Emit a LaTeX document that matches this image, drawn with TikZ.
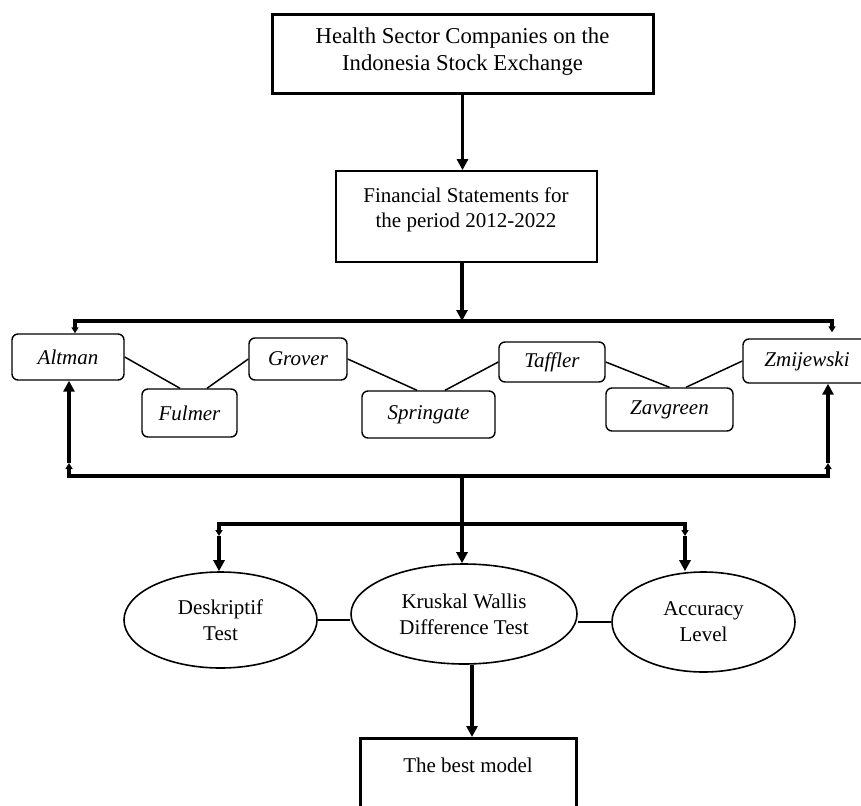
\documentclass[tikz,border=0pt]{standalone}
\usepackage{fontspec}
\setmainfont{Liberation Serif}
\usetikzlibrary{arrows.meta,shapes.geometric,calc}
\begin{document}
\begin{tikzpicture}[x=1pt,y=-1pt,
  big/.style={-{Triangle[width=11pt,length=11pt]}},
  small/.style={-{Triangle[width=7pt,length=6pt]}},
  heavy/.style={line width=3.5pt},
  plainbox/.style={draw, inner sep=0pt},
  model/.style={draw, rounded corners=6pt, line width=1.4pt, inner sep=0pt,
    font=\fontsize{21}{25}\selectfont\itshape},
  oval/.style={draw, ellipse, line width=1.6pt, inner sep=0pt, align=center,
    font=\fontsize{21}{26}\selectfont},
  thinlink/.style={line width=1.5pt},
  ovallink/.style={line width=2.5pt},
]
\useasboundingbox (0,0) rectangle (861,805);
\clip (0,0) rectangle (861,805);
\fill[white] (0,0) rectangle (861,805);

% top boxes
\node[plainbox, line width=3pt, minimum width=381pt, minimum height=79pt] (b1) at (462.5,54.5) {};
\node[font=\fontsize{22.7}{27}\selectfont, align=center] (t1) at (462.5,52) {Health Sector Companies on the\\Indonesia Stock Exchange};
\node[plainbox, line width=1.8pt, minimum width=261pt, minimum height=91pt] (b2) at (466.5,216.5) {};
\node[font=\fontsize{21}{25}\selectfont, align=center] (t2) at (466,210) {Financial Statements for\\the period 2012-2022};

\coordinate (tc) at (462,321);
\coordinate (tl) at (75,321);
\coordinate (tr) at (832,321);

\draw[heavy,big] (b1.south) -- (b1.south |- b2.north);
\draw[heavy,big] (tc |- b2.south) -- (tc);

% models
\node[model, minimum width=112pt, minimum height=46pt] (alt) at (68,357) {Altman};
\node[model, minimum width=95pt, minimum height=48pt] (ful) at (189.5,413) {Fulmer};
\node[model, minimum width=98pt, minimum height=42pt] (gro) at (298,359) {Grover};
\node[model, minimum width=133pt, minimum height=47pt] (spr) at (428.5,414.5) {Springate};
\node[model, minimum width=106pt, minimum height=40pt] (taf) at (552,362) {Taffler};
\node[model, minimum width=127pt, minimum height=43pt] (zav) at (669.5,409.5) {Zavgreen};
\node[model, minimum width=128pt, minimum height=44pt] (zmi) at (807,361) {Zmijewski};

\coordinate (tra) at ($(tr |- zmi.north)+(0,-6)$);
\draw[heavy,small] (tc) -- (tl) -- (tl |- alt.north);
\draw[heavy,small] (tc) -- (tr) -- (tra);

\draw[thinlink] (alt.east) -- ([xshift=-9.5pt]ful.north);
\draw[thinlink] ([xshift=17.5pt]ful.north) -- (gro.west);
\draw[thinlink] (gro.east) -- ([xshift=-11.5pt]spr.north);
\draw[thinlink] ([xshift=16.5pt]spr.north) -- (taf.west);
\draw[thinlink] (taf.east) -- (zav.north);
\draw[thinlink] ([xshift=16.5pt]zav.north) -- (zmi.west);

% bottom collector line
\coordinate (bl) at (69,476);
\coordinate (br) at (828,476);
\coordinate (bc) at (462,476);
\coordinate (lm) at (69,463);
\coordinate (rm) at (828,463);
\draw[line width=4.5pt, line cap=rect] (bl) -- (br);
\draw[heavy,small] (bl) -- (lm);
\draw[heavy,big] (lm) -- (lm |- alt.south);
\draw[heavy,small] (br) -- (rm);
\draw[heavy,big] (rm) -- (rm |- zmi.south);

% ellipses
\node[oval, minimum width=193pt, minimum height=96pt] (des) at (220.5,620) {Deskriptif\\Test};
\node[oval, minimum width=226pt, minimum height=100pt] (kru) at (464,614) {Kruskal Wallis\\Difference Test};
\node[oval, minimum width=183pt, minimum height=100pt] (acc) at (703.5,622) {Accuracy\\Level};

\coordinate (mc) at (462,524);
\coordinate (ml) at (219,524);
\coordinate (mr) at (685,524);
\coordinate (mlt) at (219,536);
\coordinate (mrt) at (685,536);
\draw[heavy,big] (bc) -- (bc |- kru.north);
\draw[heavy,small] (mc) -- (ml) -- (mlt);
\draw[heavy,small] (mc) -- (mr) -- (mrt);
\draw[heavy,big] (mlt) -- (mlt |- des.north);
\draw[heavy,big] (mrt) -- (mrt |- acc.north);

\draw[ovallink] (des.east) -- (des.east -| kru.west);
\draw[ovallink] (acc.west -| kru.east) -- (acc.west);

% best model
\node[plainbox, line width=3pt, minimum width=216pt, minimum height=120pt, anchor=north] (bm) at (468,737) {};
\node[font=\fontsize{21}{25}\selectfont] (t3) at (468,765) {The best model};
\coordinate (kb) at ([xshift=8pt]kru.south);
\draw[heavy,big] (kb) -- (kb |- bm.north);
\end{tikzpicture}
\end{document}
